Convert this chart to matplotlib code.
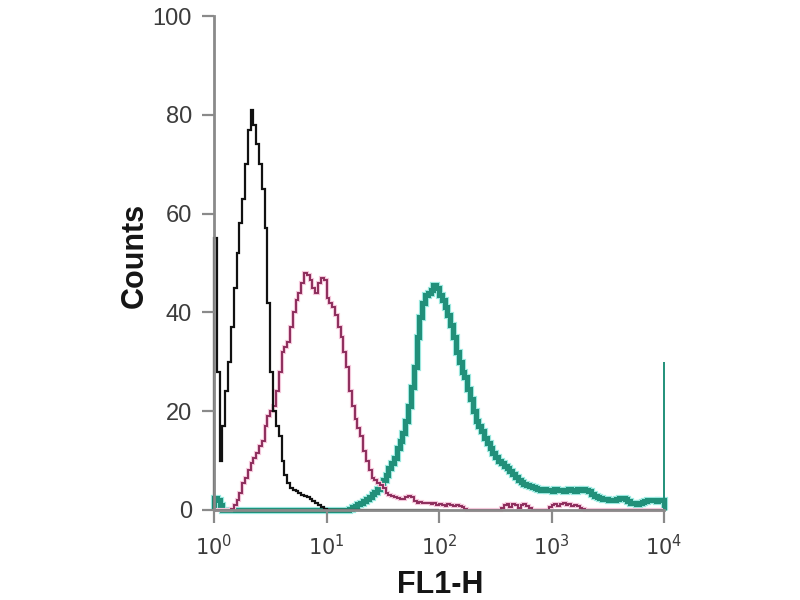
"""Flow cytometry overlay: FL1-H histograms for three samples on a log axis."""

import matplotlib

matplotlib.use("Agg")
import matplotlib.pyplot as plt
import matplotlib.patheffects as pe
import numpy as np
from matplotlib.ticker import NullLocator

# channel width in decades (40 channels per decade, 10^0 .. 10^4)
CHANNEL_STEP = 0.025

# black: unstained control (first 2 decades, then nothing)
black_counts = [
    55, 28, 10, 17, 24, 30, 37, 45, 52, 58,
    63, 70, 77, 81, 78, 74, 70, 65, 57, 42,
    28, 20, 17, 15, 10, 7, 5.5, 4.5, 4, 3.8,
    3.5, 3, 2.8, 2.6, 2.2, 1.8, 1.4, 1.0, 0.6, 0.2,
    0, 0, 0, 0, 0, 0, 0, 0, 0, 0,
    0, 0, 0, 0, 0, 0, 0, 0, 0, 0,
    0, 0, 0, 0, 0, 0, 0, 0, 0, 0,
    0, 0, 0, 0, 0, 0, 0, 0, 0, 0,
]

# magenta: isotype / low staining
pink_counts = [
    0, 0, 0, 0, 0, 0,
    0.3, 1, 2, 3.5, 5.5, 6.5, 8, 9.5, 10.5, 11.5,
    13, 14, 17, 19, 20, 21, 24, 28, 32, 33,
    34, 37, 40, 42.5, 44, 46, 48, 47.5, 46.5, 45,
    44, 46, 47, 46.5, 43, 42, 41, 39.5, 37, 35,
    32, 29, 24, 21, 18.5, 16.5, 15, 12, 10, 8,
    6.5, 6, 5.5, 5, 4.5, 3.5, 3, 2.8, 2.6, 2.4,
    2.2, 2.2, 2.6, 2.8, 2.6, 1.8, 1.4, 1.6, 1.4, 1.5,
    1.5, 1.2, 1.4, 1.0, 1.3, 1.1, 0.9, 1.2, 1.0, 0.8, 1.1, 0.9, 0.6, 0.3, 0,
    0, 0, 0, 0, 0, 0, 0, 0, 0, 0, 0,
    0.5, 1.0, 1.3, 0.7, 1.2, 1.0, 0.5, 1.1, 1.3, 0.8, 0.4, 0,
    0, 0, 0, 0, 0,
    0.6, 1.0, 1.3, 0.9, 1.2, 1.4, 1.0, 1.3, 0.8, 1.1, 0.9, 0.5, 0.2,
    0, 0, 0, 0, 0, 0, 0, 0, 0, 0, 0, 0, 0, 0,
    0, 0, 0, 0, 0, 0, 0, 0, 0, 0, 0, 0, 0, 0,
]

# teal: stained sample
teal_counts = [
    2.5, 2, 1,
    0, 0, 0, 0, 0, 0, 0, 0, 0, 0, 0, 0, 0, 0, 0,
    0, 0, 0, 0, 0, 0, 0, 0, 0, 0, 0, 0, 0, 0, 0,
    0, 0, 0, 0, 0, 0, 0, 0, 0, 0, 0, 0, 0, 0, 0,
    0.3, 0.6, 0.9, 1.2, 1.5, 1.8, 2.2, 2.7, 3.2, 3.7,
    4.3, 5, 6, 7, 8.5, 9.5, 10.5, 12.5, 14, 15.5,
    18, 21, 25, 29, 35, 39, 42, 43.5, 44, 44.5,
    45.5, 45, 43.5, 42.5, 41, 39.5, 37.5, 35, 32, 30,
    28, 27, 24.5, 22.5, 20, 18, 17, 16, 14.5, 13.5,
    12.5, 11.5, 10.8, 10, 9.5, 9, 8.5, 7.8, 7.2, 6.7,
    6, 5.6, 5.2, 5, 4.8, 4.6, 4.5,
    4.2, 4.0, 4.3, 4.1, 4.0, 3.9, 4.2, 4.0, 4.1, 3.8, 4.0, 4.2, 4.0, 3.9, 4.3, 4.1,
    4.2, 4, 3.8, 3.2, 2.8, 2.6, 2.5, 2.3, 2.2, 2, 2, 2.1, 2.3, 2.5, 2.4,
    2.2, 1.8, 1.5, 1.4, 1.3, 1.4, 1.6, 1.9, 2, 2.1, 2, 1.9, 2, 2.1,
]
# events piled up in the last (off-scale) channel
teal_last_channel = 30

x_ticks = [1, 10, 100, 1000, 10000]
x_tick_labels = ["$10^{0}$", "$10^{1}$", "$10^{2}$", "$10^{3}$", "$10^{4}$"]
y_ticks = [0, 20, 40, 60, 80, 100]

NARROW = ["Liberation Sans Narrow", "Liberation Sans", "DejaVu Sans"]
plt.rcParams["font.family"] = NARROW
plt.rcParams["mathtext.fontset"] = "custom"
plt.rcParams["mathtext.rm"] = "Liberation Sans Narrow"
plt.rcParams["mathtext.it"] = "Liberation Sans Narrow"
plt.rcParams["mathtext.bf"] = "Liberation Sans Narrow:bold"

AXIS_GREY = "#8a8a8a"


def edges_for(counts):
    return 10 ** (np.arange(len(counts) + 1) * CHANNEL_STEP)


def main() -> None:
    fig = plt.figure(figsize=(8, 6), dpi=100)
    ax = fig.add_axes([0.2675, 0.15, 0.5625, 0.8233])

    # teal first so the black control sits on the baseline, pink crosses over it
    ax.stairs(teal_counts, edges_for(teal_counts), color="#21907a", lw=3.6, clip_on=False,
              path_effects=[pe.Stroke(linewidth=5.2, foreground="#9be8df"), pe.Normal()])
    last_edge = edges_for(teal_counts)[-1]
    ax.vlines(last_edge * 0.997, 0, teal_last_channel, color="#21907a", lw=1.4, clip_on=False)
    ax.stairs(pink_counts, edges_for(pink_counts), color="#8e2d5c", lw=1.4, clip_on=False,
              path_effects=[pe.Stroke(linewidth=3.0, foreground="#f3c6da"), pe.Normal()])
    ax.stairs(black_counts, edges_for(black_counts), color="#111111", lw=1.6, clip_on=False)

    ax.set_xscale("log")
    ax.set_xlim(1, 1e4)
    ax.set_ylim(0, 100)
    ax.set_xticks(x_ticks)
    ax.set_xticklabels(x_tick_labels)
    ax.xaxis.set_minor_locator(NullLocator())
    ax.set_yticks(y_ticks)

    for side in ("top", "right"):
        ax.spines[side].set_visible(False)
    for side in ("left", "bottom"):
        ax.spines[side].set_color(AXIS_GREY)
        ax.spines[side].set_linewidth(2)

    ax.tick_params(direction="out", length=9, width=1.6, color=AXIS_GREY, labelcolor="#3c3c3c")
    ax.tick_params(axis="y", labelsize=17, pad=7)
    ax.tick_params(axis="x", labelsize=15, pad=8)

    fig.text(135 / 800, 1 - 255 / 600, "Counts", rotation=90, ha="center", va="center",
             fontsize=22, fontweight="bold", color="#151515")
    fig.text(440 / 800, 1 - 585 / 600, "FL1-H", ha="center", va="center",
             fontsize=22, fontweight="bold", color="#151515")

    fig.savefig("out.png", dpi=100)
    plt.close(fig)


if __name__ == "__main__":
    main()
